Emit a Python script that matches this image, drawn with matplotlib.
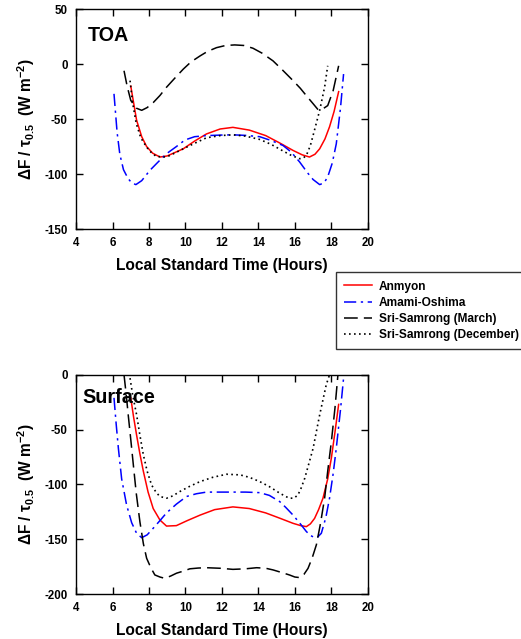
import matplotlib.pyplot as plt
import matplotlib.lines as mlines

plt.rcParams['font.family'] = ['Liberation Sans', 'DejaVu Sans']
plt.rcParams['font.weight'] = 'bold'
plt.rcParams['axes.unicode_minus'] = False
plt.rcParams['mathtext.fontset'] = 'custom'
plt.rcParams['mathtext.rm'] = 'Liberation Sans:bold'
plt.rcParams['mathtext.it'] = 'Liberation Sans:bold'
plt.rcParams['mathtext.bf'] = 'Liberation Sans:bold'

# --- TOA panel (hours, W m-2 per unit AOD) ---
toa_anm_x = [7.0, 7.32, 7.6, 7.87, 8.2, 8.6, 9.0, 9.88, 10.5, 11.15, 11.9, 12.6, 13.5, 14.4, 15.2, 15.9, 16.4, 16.8, 17.1, 17.36, 17.65, 17.9, 18.15, 18.4]
toa_anm_y = [-20, -51, -66, -75, -81, -84.5, -83.5, -77, -70, -63.5, -59, -57.5, -60, -65, -72, -78.5, -82.5, -84.5, -82, -77, -68, -57, -43, -25]

toa_ama_x = [6.08, 6.25, 6.4, 6.6, 6.85, 7.05, 7.28, 7.6, 8.05, 8.5, 8.96, 9.5, 9.97, 10.5, 11.15, 12.0, 12.6, 13.3, 14.07, 14.7, 15.35, 15.8, 16.26, 16.7, 17.0, 17.36, 17.6, 17.8, 18.05, 18.27, 18.5, 18.67]
toa_ama_y = [-27, -62, -82, -96, -104, -108, -109.6, -106, -96.6, -89, -81.5, -75, -69, -66, -65, -64.5, -64.3, -64.8, -66, -69.5, -74, -80, -89, -99, -105, -109.6, -108, -102.6, -90, -72.5, -40, -9]

toa_mar_x = [6.63, 6.8, 7.0, 7.3, 7.6, 7.9, 8.23, 8.6, 8.96, 9.4, 9.88, 10.3, 10.8, 11.2, 11.7, 12.2, 12.7, 13.2, 13.7, 14.2, 14.8, 15.3, 15.9, 16.3, 16.63, 17.0, 17.27, 17.55, 17.8, 18.1, 18.4]
toa_mar_y = [-6, -20, -33, -40, -42, -39.5, -35, -28.5, -21, -13, -4.5, 2, 7.5, 11.5, 15, 17, 17.5, 17, 14.5, 10, 3, -5, -15, -22, -28.7, -36, -41.4, -40.5, -37.7, -24, -1.5]

toa_dec_x = [6.96, 7.1, 7.3, 7.55, 7.87, 8.1, 8.4, 8.96, 9.4, 9.88, 10.5, 11.15, 11.9, 12.6, 13.3, 14.07, 14.7, 15.35, 15.8, 16.26, 16.45, 16.63, 16.85, 17.07, 17.36, 17.63, 17.8]
toa_dec_y = [-15, -35, -54, -67, -75.5, -80, -84, -84.5, -81, -77, -72, -67, -65, -64.3, -65.5, -68.5, -73, -79, -83, -86, -85.5, -83, -74, -60.4, -42, -21, -1.5]

# --- Surface panel ---
srf_anm_x = [7.0, 7.15, 7.32, 7.5, 7.69, 7.95, 8.23, 8.6, 8.96, 9.5, 10.1, 10.8, 11.6, 12.6, 13.5, 14.4, 15.2, 15.9, 16.3, 16.63, 16.85, 17.08, 17.3, 17.54, 17.8, 18.0, 18.2, 18.4]
srf_anm_y = [-21, -38, -55, -72, -88, -107, -122, -132.5, -138, -137.6, -133, -128, -123, -120.5, -122, -126, -131, -135.5, -137.5, -138.5, -136, -131, -123, -112.6, -95, -76, -52, -27]

srf_ama_x = [6.08, 6.2, 6.32, 6.5, 6.77, 7.05, 7.32, 7.6, 7.9, 8.23, 8.6, 8.96, 9.5, 10.06, 10.6, 11.15, 12.0, 12.6, 13.3, 14.07, 14.6, 15.17, 15.5, 15.9, 16.3, 16.63, 16.85, 17.08, 17.25, 17.45, 17.7, 17.9, 18.1, 18.27, 18.5, 18.67]
srf_ama_y = [-21, -45, -67, -95, -118.7, -135, -144.6, -148.6, -146, -140, -133, -126, -118, -111, -108.5, -107, -107, -107, -107, -107.5, -110, -115.7, -121, -128, -136, -143, -146.5, -148.6, -148, -144.6, -130, -112.6, -90, -67, -32, -3]

srf_mar_x = [6.63, 6.75, 6.86, 7.0, 7.14, 7.3, 7.5, 7.69, 7.87, 8.1, 8.32, 8.6, 8.87, 9.2, 9.51, 9.9, 10.24, 10.7, 11.15, 11.9, 12.6, 13.3, 13.9, 14.4, 14.8, 15.3, 15.7, 16.0, 16.26, 16.5, 16.72, 16.95, 17.18, 17.4, 17.63, 17.8, 18.0, 18.2, 18.36]
srf_mar_y = [0, -18, -36.5, -59, -82, -108, -134, -154, -167.4, -176, -182.6, -184.5, -185.7, -183.5, -181, -179, -177, -176.3, -176, -176.5, -177.5, -177, -176, -176.5, -178, -180.5, -182.6, -184.5, -185, -182, -176.6, -167, -155, -136, -112.6, -88, -61, -30, 0]

srf_dec_x = [6.96, 7.1, 7.32, 7.5, 7.69, 7.9, 8.14, 8.4, 8.6, 8.96, 9.3, 9.69, 10.2, 10.8, 11.5, 12.25, 13.0, 13.5, 14.07, 14.6, 15.17, 15.5, 15.7, 15.95, 16.17, 16.35, 16.54, 16.75, 17.0, 17.2, 17.36, 17.55, 17.72, 17.9]
srf_dec_y = [-3, -18, -36.5, -55, -73, -88, -100.5, -107.5, -111, -112.6, -110.5, -106.5, -102, -97.4, -93.5, -90.7, -91.3, -93.5, -97.4, -102, -108, -111, -112.6, -112.5, -109.6, -103, -94.4, -82, -67, -50, -36.5, -22, -9, 0]

labels = ['Anmyon', 'Amami-Oshima', 'Sri-Samrong (March)', 'Sri-Samrong (December)']

styles = [
    dict(color='red', lw=1.1, ls='-'),
    dict(color='blue', lw=1.1, ls=(0, (8, 3, 1.5, 3))),
    dict(color='black', lw=1.1, ls=(0, (9, 4))),
    dict(color='black', lw=1.2, ls=(0, (1, 2))),
]

fig = plt.figure(figsize=(5.21, 6.39), dpi=100)
ax1 = fig.add_axes([0.146, 0.6416, 0.560, 0.344])
ax2 = fig.add_axes([0.146, 0.0704, 0.560, 0.343])

panels = [
    (ax1, [(toa_anm_x, toa_anm_y), (toa_ama_x, toa_ama_y), (toa_mar_x, toa_mar_y), (toa_dec_x, toa_dec_y)],
     (-150, 50), 'TOA', (0.04, 0.88)),
    (ax2, [(srf_anm_x, srf_anm_y), (srf_ama_x, srf_ama_y), (srf_mar_x, srf_mar_y), (srf_dec_x, srf_dec_y)],
     (-200, 0), 'Surface', (0.02, 0.895)),
]

for ax, series, ylim, name, pos in panels:
    for (x, y), st in zip(series, styles):
        ax.plot(x, y, **st)
    ax.set_xlim(4, 20)
    ax.set_ylim(*ylim)
    ax.set_xticks(range(4, 21, 2))
    ax.set_yticks(range(ylim[0], ylim[1] + 1, 50))
    ax.tick_params(direction='in', top=True, right=True, length=5, width=1,
                   labelsize=8.3, pad=6)
    for lab in ax.get_xticklabels() + ax.get_yticklabels():
        lab.set_fontweight('bold')
    for sp in ax.spines.values():
        sp.set_linewidth(1)
    ax.set_xlabel('Local Standard Time (Hours)', fontsize=11.2, fontweight='bold', labelpad=6)
    ax.set_ylabel(r'$\Delta$F / $\tau_{0.5}$  (W m$^{-2}$)', fontsize=11.2, fontweight='bold', labelpad=5)
    ax.text(pos[0], pos[1], name, transform=ax.transAxes, fontsize=14.2, fontweight='bold',
            ha='left', va='center')

handles = [mlines.Line2D([], [], **st) for st in styles]
leg = fig.legend(handles, labels, loc='upper left', bbox_to_anchor=(0.645, 0.574),
                 frameon=True, fancybox=False, edgecolor='black',
                 handlelength=2.3, borderpad=0.7, labelspacing=0.35, handletextpad=0.6,
                 borderaxespad=0, prop={'weight': 'bold', 'size': 8.6})
leg.get_frame().set_linewidth(1)

fig.savefig('out.png', dpi=100)
